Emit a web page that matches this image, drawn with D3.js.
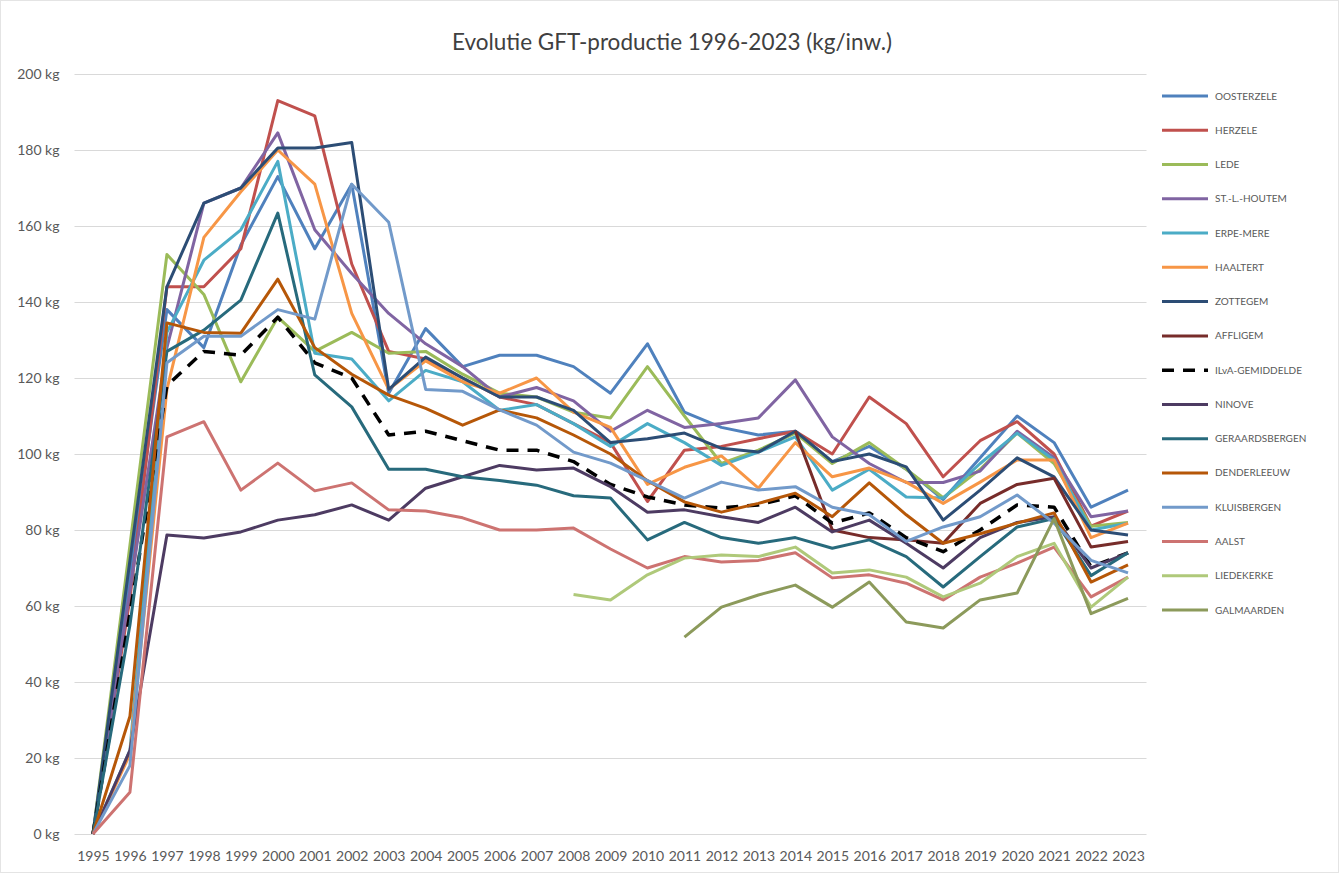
<!DOCTYPE html>
<html>
<head>
<meta charset="utf-8">
<script src="https://cdnjs.cloudflare.com/ajax/libs/d3/7.8.5/d3.min.js"></script>
<style>
  body { margin: 0; background: #ffffff; }
  #chart { width: 1339px; height: 873px; }
</style>
</head>
<body>
<div id="chart"></div>
<script>
// years on the x axis
var years = [1995, 1996, 1997, 1998, 1999, 2000, 2001, 2002, 2003, 2004, 2005, 2006, 2007, 2008, 2009,
  2010, 2011, 2012, 2013, 2014, 2015, 2016, 2017, 2018, 2019, 2020, 2021, 2022, 2023];

// kg per inhabitant (null = no data)
var oosterzele = [0, 68, 138, 128, 155, 173, 154, 171, 116, 133, 123, 126, 126, 123, 116, 129, 111, 107, 105, 106, 98, 102, 96, 88, 99, 110, 103, 86, 90.5];
var herzele = [0, 62, 144, 144, 154, 193, 189, 150, 127, 125, 120, 115, 113, 108, 103, 87.5, 101, 102, 104, 106, 100, 115, 108, 94, 103.5, 108.5, 100, 81, 85];
var lede = [0, 76, 152.5, 142, 119, 136, 127, 132, 126.5, 127, 121, 116, 115, 111, 109.5, 123, 110, 97.5, 101, 105.5, 97.5, 103, 96, 88.5, 96, 105.5, 97.5, 81, 82];
var stLHoutem = [0, 64, 128, 166, 170, 184.5, 159, 147.5, 137, 129, 123, 115, 117.5, 114, 106, 111.5, 107, 108, 109.5, 119.5, 104.5, 97.5, 92.5, 92.5, 95.5, 106, 99, 83.5, 85];
var erpeMere = [0, 22, 132, 151, 159, 177, 126.5, 125, 114, 122, 119, 111.5, 113, 108, 102, 108, 103, 97, 100.5, 104.5, 90.5, 96, 88.7, 88.4, 97.5, 105.5, 98.4, 80, 81.8];
var haaltert = [0, 21, 117, 157, 169, 180, 171, 137, 117, 124.5, 119, 116, 120, 111, 107, 92, 96.5, 99.5, 91, 103, 94, 96.3, 92.6, 87, 92.6, 98.4, 98.4, 78, 81.8];
var zottegem = [0, 72, 144, 166, 170, 180.5, 180.5, 182, 117, 125.5, 120, 115, 115, 111.5, 103, 104, 105.5, 101.5, 100.5, 106, 98, 100, 96.6, 82.6, 90.5, 99, 94, 80, 78.7];
var affligem = [null, null, null, null, null, null, null, null, null, null, null, null, null, null, null,
  null, null, null, null, 106, 80, 78, 77.4, 76.5, 87, 92, 93.6, 75.5, 77];
var ilvaGemiddelde = [0, 58, 118, 127, 126, 136, 124, 120, 105, 106, 103.5, 101, 101, 98, 92, 88.7, 86.6, 85.8, 86.6, 89, 81.8, 84.5, 78, 74.3, 80, 86.6, 86, 70.3, 74];
var ninove = [0, 22, 78.7, 77.9, 79.5, 82.6, 84, 86.6, 82.6, 91, 94, 97, 95.8, 96.3, 91.4, 84.7, 85.3, 83.5, 82, 86, 79.5, 82.6, 76.5, 70, 78, 82, 83.5, 70, 74];
var geraardsbergen = [0, 55, 127, 132.6, 140.5, 163.4, 120.8, 112.4, 96, 96, 94, 93, 91.8, 89, 88.4, 77.4, 82, 78, 76.5, 78, 75.2, 77.4, 73, 65, 73, 80.8, 83, 68, 74];
var denderleeuw = [0, 31, 134.5, 132, 131.8, 146, 128, 121, 115.5, 112, 107.6, 111.6, 109.5, 105, 100, 93, 87.4, 84.7, 87, 89.7, 83.5, 92.4, 84, 76.5, 79, 81.8, 84.5, 66.3, 70.8];
var kluisbergen = [0, 18, 124, 131, 131, 138, 135.5, 171, 161, 117, 116.5, 111.6, 107.6, 100.5, 97.6, 93, 88.4, 92.6, 90.5, 91.4, 86, 84, 77, 80.8, 83.5, 89.2, 81.8, 72, 68.7];
var aalst = [0, 11, 104.5, 108.5, 90.5, 97.6, 90.3, 92.4, 85.3, 85, 83.2, 80, 80, 80.5, 75, 70, 73, 71.6, 72, 74, 67.4, 68.2, 66, 61.6, 67.6, 71.3, 75.5, 62.4, 67.6];
var liedekerke = [null, null, null, null, null, null, null, null, null, null, null, null, null, 63, 61.6,
  68.2, 72.6, 73.4, 73, 75.5, 68.7, 69.5, 67.6, 62.4, 66, 73, 76.5, 59.7, 67.6];
var galmaarden = [null, null, null, null, null, null, null, null, null, null, null, null, null, null, null,
  null, 51.8, 59.7, 62.9, 65.5, 59.7, 66.3, 55.8, 54.2, 61.6, 63.4, 83, 58, 62];

var names = ["OOSTERZELE", "HERZELE", "LEDE", "ST.-L.-HOUTEM", "ERPE-MERE", "HAALTERT", "ZOTTEGEM", "AFFLIGEM",
  "ILvA-GEMIDDELDE", "NINOVE", "GERAARDSBERGEN", "DENDERLEEUW", "KLUISBERGEN", "AALST", "LIEDEKERKE", "GALMAARDEN"];
var values = [oosterzele, herzele, lede, stLHoutem, erpeMere, haaltert, zottegem, affligem,
  ilvaGemiddelde, ninove, geraardsbergen, denderleeuw, kluisbergen, aalst, liedekerke, galmaarden];
var yTicks = [0, 20, 40, 60, 80, 100, 120, 140, 160, 180, 200];

var colors = ["#4f81bd", "#c0504d", "#9bbb59", "#8064a2", "#4bacc6", "#f79646", "#2c4d75", "#772c2a",
  "#000000", "#4d3b62", "#276a7c", "#b65708", "#729aca", "#cd7371", "#afc97a", "#8c9a5b"];

var width = 1339,
  height = 873;
var plot = { left: 74.5, right: 1146.5, top: 74, bottom: 834 };
var font = "Lato, 'Open Sans', sans-serif";

var series = names.map(function (n, i) {
  return {
    name: n,
    color: colors[i],
    dashed: n == "ILvA-GEMIDDELDE",
    points: years.map(function (y, j) {
      return { year: y, value: values[i][j] };
    })
  };
});

var svg = d3
  .select("#chart")
  .append("svg")
  .attr("width", width)
  .attr("height", height);

svg.append("rect")
  .attr("x", 0.5).attr("y", 0.5)
  .attr("width", width - 1).attr("height", height - 1)
  .attr("fill", "#ffffff")
  .attr("stroke", "#e4e4e4");

var x = d3.scalePoint().domain(years).range([plot.left, plot.right]).padding(0.5);
var y = d3.scaleLinear().domain([0, 200]).range([plot.bottom, plot.top]);

// title
svg.append("text")
  .attr("x", 672)
  .attr("y", 50)
  .attr("text-anchor", "middle")
  .attr("font-family", font)
  .attr("font-size", "22.5px")
  .attr("fill", "#404040")
  .text("Evolutie GFT-productie 1996-2023 (kg/inw.)");

// horizontal gridlines
svg.append("g")
  .selectAll("line")
  .data(yTicks)
  .join("line")
  .attr("x1", plot.left)
  .attr("x2", plot.right)
  .attr("y1", function (d) { return Math.round(y(d)) + 0.5; })
  .attr("y2", function (d) { return Math.round(y(d)) + 0.5; })
  .attr("stroke", "#d9d9d9")
  .attr("stroke-width", 1);

// y axis labels
var yAxis = svg.append("g")
  .attr("transform", "translate(" + (plot.left - 12) + ",0)")
  .call(d3.axisLeft(y).tickValues(yTicks).tickSize(0).tickFormat(function (d) { return d + " kg"; }));
yAxis.select(".domain").remove();
yAxis.selectAll("text")
  .attr("font-family", font)
  .attr("font-size", "14px")
  .attr("fill", "#595959");

// x axis labels
var xAxis = svg.append("g")
  .attr("transform", "translate(0," + (plot.bottom + 14) + ")")
  .call(d3.axisBottom(x).tickSize(0));
xAxis.select(".domain").remove();
xAxis.selectAll("text")
  .attr("font-family", font)
  .attr("font-size", "14px")
  .attr("fill", "#595959");

var line = d3.line()
  .defined(function (d) { return d.value != null; })
  .x(function (d) { return x(d.year); })
  .y(function (d) { return y(d.value); });

// the lines, first series at the bottom
svg.append("g")
  .selectAll("path")
  .data(series)
  .join("path")
  .attr("d", function (d) { return line(d.points); })
  .attr("fill", "none")
  .attr("stroke", function (d) { return d.color; })
  .attr("stroke-width", function (d) { return d.dashed ? 3.5 : 3; })
  .attr("stroke-dasharray", function (d) { return d.dashed ? "12,9" : null; })
  .attr("stroke-linejoin", "round");

// legend on the right
var legend = svg.append("g")
  .selectAll("g")
  .data(series)
  .join("g")
  .attr("transform", function (d, i) {
    return "translate(1162," + (96 + i * 34.27) + ")";
  });

legend.append("line")
  .attr("x1", 0)
  .attr("x2", 46)
  .attr("stroke", function (d) { return d.color; })
  .attr("stroke-width", function (d) { return d.dashed ? 3.5 : 3; })
  .attr("stroke-dasharray", function (d) { return d.dashed ? "12,9" : null; });

legend.append("text")
  .attr("x", 53)
  .attr("dy", "0.35em")
  .attr("font-family", font)
  .attr("font-size", "10px")
  .attr("fill", "#595959")
  .text(function (d) { return d.name; });
</script>
</body>
</html>
